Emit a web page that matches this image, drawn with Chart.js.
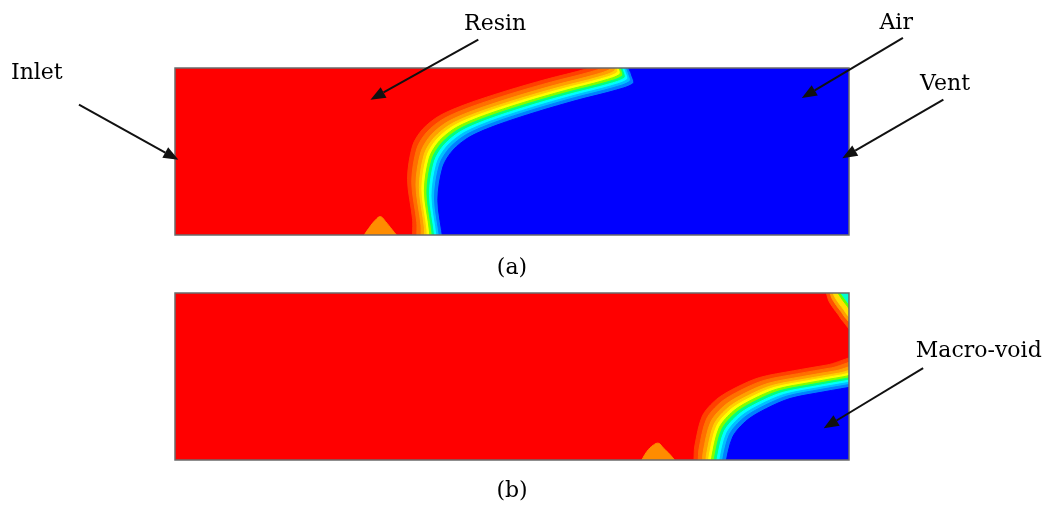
<!DOCTYPE html>
<html>
<head>
<meta charset="utf-8">
<script src="https://cdn.jsdelivr.net/npm/chart.js@4.4.1/dist/chart.umd.min.js"></script>
<style>
  html, body { margin: 0; padding: 0; background: #fff; }
  #cena { position: relative; width: 1057px; height: 512px; }
  #cena canvas { position: absolute; left: 0; }
</style>
</head>
<body>
<div id="cena">
  <canvas id="painelA" width="1057" height="280" style="top:0"></canvas>
  <canvas id="painelB" width="1057" height="232" style="top:280px"></canvas>
</div>
<script>
// Molde 400 x 100 mm (comprimento x altura), resina entra pela esquerda

// Frente de fluxo (meio da faixa de transição) - painel (a)
const frenteA_x = [153, 153, 150, 153, 159, 169, 185, 209, 233, 256, 266, 265, 263];
const frenteA_y = [-8, 1, 25, 45, 55, 63, 70, 78, 85, 91, 95, 100, 108];

// Frente de fluxo - painel (b), e a pequena frente no canto superior direito
const frenteB_x = [320, 320.5, 325, 333.5, 345, 359, 379, 399, 425];
const frenteB_y = [-8, 0, 18, 28, 35, 41, 45, 48.5, 53];
const cantoB_x = [389, 392, 395, 398, 400, 410];
const cantoB_y = [112, 100, 95, 91, 88, 78];

// Manchas alaranjadas junto à parede inferior
const manchaA_x = [111, 115, 119, 122, 125, 129, 133];
const manchaA_y = [-2, 4, 9, 11, 8, 3, -2];
const manchaB_x = [276, 280, 284, 287, 290, 294, 298];
const manchaB_y = [-2, 5, 9, 10, 7, 3, -2];

// faixas de cor (da resina para o ar), deslocamento em mm
const camadas = [
    { cor: '#ff4000', d: -12 },
    { cor: '#ff7000', d: -9.5 },
    { cor: '#ffa000', d: -7 },
    { cor: '#ffd000', d: -5 },
    { cor: '#ffff00', d: -3.5 },
    { cor: '#80ff00', d: -2 },
    { cor: '#00ff80', d: -0.5 },
    { cor: '#00ffff', d: 1 },
    { cor: '#00c0ff', d: 2.5 },
    { cor: '#0080ff', d: 4 },
    { cor: '#0000ff', d: 6 }
];
const camadasCanto = [
    { cor: '#ff5000', d: -6 },
    { cor: '#ffa000', d: -3.5 },
    { cor: '#ffe000', d: -1.5 },
    { cor: '#60ff00', d: 1.5 },
    { cor: '#00ffd0', d: 3 }
];

function pontos(xs, ys) {
    return xs.map((x, i) => ({ x: x, y: ys[i] }));
}

// monta os poligonos de cada faixa deslocando a frente
function faixas(xs, ys, lista, dir, fecho, ordemBase) {
    return lista.map((c, i) => {
        const pts = xs.map((x, k) => ({ x: x + c.d * dir[0], y: ys[k] + c.d * dir[1] }));
        return {
            data: pts.concat(fecho),
            showLine: true,
            fill: 'shape',
            backgroundColor: c.cor,
            borderColor: c.cor,
            borderWidth: 1,
            pointRadius: 0,
            tension: 0.3,
            capBezierPoints: false,
            clip: 0,
            order: ordemBase + lista.length - i
        };
    });
}

function mancha(xs, ys, cor, ordem) {
    return {
        data: pontos(xs, ys),
        showLine: true,
        fill: 'shape',
        backgroundColor: cor,
        borderColor: cor,
        borderWidth: 1,
        pointRadius: 0,
        tension: 0.4,
        capBezierPoints: false,
        clip: 0,
        order: ordem
    };
}

// fundo vermelho (resina), borda e anotações
function notas(textos, setas) {
    return {
        id: 'notas',
        beforeDatasetsDraw(chart) {
            const a = chart.chartArea;
            chart.ctx.save();
            chart.ctx.fillStyle = '#ff0000';
            chart.ctx.fillRect(a.left, a.top, a.right - a.left, a.bottom - a.top);
            chart.ctx.restore();
        },
        afterDraw(chart) {
            const ctx = chart.ctx;
            const px = v => chart.scales.x.getPixelForValue(v);
            const py = v => chart.scales.y.getPixelForValue(v);
            const a = chart.chartArea;
            ctx.save();
            ctx.strokeStyle = '#6b6b6b';
            ctx.lineWidth = 1.5;
            ctx.strokeRect(a.left, a.top, a.right - a.left, a.bottom - a.top);

            ctx.fillStyle = '#000';
            ctx.font = '22px "DejaVu Serif"';
            ctx.textAlign = 'center';
            ctx.textBaseline = 'middle';
            textos.forEach(t => ctx.fillText(t.texto, px(t.x), py(t.y)));

            ctx.strokeStyle = '#111';
            ctx.fillStyle = '#111';
            ctx.lineWidth = 2;
            setas.forEach(s => {
                const x0 = px(s.de[0]), y0 = py(s.de[1]);
                const x1 = px(s.para[0]), y1 = py(s.para[1]);
                const ang = Math.atan2(y1 - y0, x1 - x0);
                const L = 15, W = 6;
                ctx.beginPath();
                ctx.moveTo(x0, y0);
                ctx.lineTo(x1 - L * Math.cos(ang), y1 - L * Math.sin(ang));
                ctx.stroke();
                ctx.beginPath();
                ctx.moveTo(x1, y1);
                ctx.lineTo(x1 - L * Math.cos(ang) + W * Math.sin(ang), y1 - L * Math.sin(ang) - W * Math.cos(ang));
                ctx.lineTo(x1 - L * Math.cos(ang) - W * Math.sin(ang), y1 - L * Math.sin(ang) + W * Math.cos(ang));
                ctx.closePath();
                ctx.fill();
            });
            ctx.restore();
        }
    };
}

function opcoes(padding) {
    return {
        responsive: false,
        animation: false,
        devicePixelRatio: 1,
        layout: { padding: padding },
        plugins: { legend: { display: false }, tooltip: { enabled: false } },
        scales: {
            x: { type: 'linear', min: 0, max: 400, display: false },
            y: { type: 'linear', min: 0, max: 100, display: false }
        }
    };
}

// Painel (a)
const dsA = faixas(frenteA_x, frenteA_y, camadas, [1, -0.7],
    [{ x: 430, y: 115 }, { x: 430, y: -15 }], 10);
dsA.push(mancha(manchaA_x, manchaA_y, '#ff8c00', 50));

new Chart(document.getElementById('painelA'), {
    type: 'scatter',
    data: { datasets: dsA },
    options: opcoes({ left: 175, right: 208, top: 68, bottom: 45 }),
    plugins: [notas(
        [
            { texto: 'Inlet', x: -82, y: 97 },
            { texto: 'Resin', x: 190, y: 126 },
            { texto: 'Air', x: 428, y: 127 },
            { texto: 'Vent', x: 457, y: 90 },
            { texto: '(a)', x: 200, y: -20 }
        ],
        [
            { de: [-57, 78], para: [2, 45] },
            { de: [180, 117], para: [116, 81] },
            { de: [432, 118], para: [372, 82] },
            { de: [456, 81], para: [396, 46] }
        ]
    )]
});

// Painel (b)
const dsB = faixas(frenteB_x, frenteB_y, camadas, [1, -0.7],
    [{ x: 430, y: -15 }], 10)
    .concat(faixas(cantoB_x, cantoB_y, camadasCanto, [0.7, 0.7],
        [{ x: 430, y: 78 }, { x: 430, y: 115 }], 0));
dsB.push(mancha(manchaB_x, manchaB_y, '#ff8c00', 50));

new Chart(document.getElementById('painelB'), {
    type: 'scatter',
    data: { datasets: dsB },
    options: opcoes({ left: 175, right: 208, top: 13, bottom: 52 }),
    plugins: [notas(
        [
            { texto: 'Macro-void', x: 477, y: 65 },
            { texto: '(b)', x: 200, y: -19 }
        ],
        [
            { de: [444, 55], para: [385, 19] }
        ]
    )]
});
</script>
</body>
</html>
